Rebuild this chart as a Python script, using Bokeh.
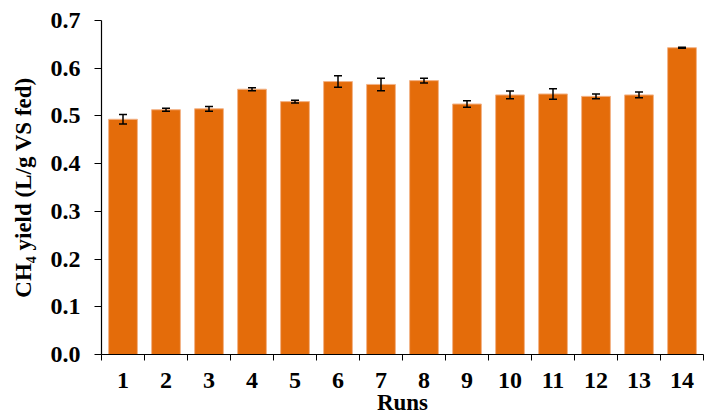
from bokeh.plotting import figure
from bokeh.models import ColumnDataSource, Whisker, TeeHead, FixedTicker, Range1d
from bokeh.embed import file_html
from bokeh.resources import INLINE

runs = list(range(1, 15))
yield_vals = [0.493, 0.513, 0.515, 0.556, 0.530, 0.572, 0.566, 0.574, 0.525, 0.544, 0.546, 0.541, 0.544, 0.643]
err_vals = [0.010, 0.003, 0.005, 0.003, 0.003, 0.012, 0.013, 0.005, 0.007, 0.008, 0.011, 0.005, 0.006, 0.001]
y_ticks = [0.0, 0.1, 0.2, 0.3, 0.4, 0.5, 0.6, 0.7]

src = ColumnDataSource(dict(
    x=runs, y=yield_vals,
    upper=[v + e for v, e in zip(yield_vals, err_vals)],
    lower=[v - e for v, e in zip(yield_vals, err_vals)],
))

FONT = "Liberation Serif"

p = figure(width=704, height=418, output_backend="svg", toolbar_location=None,
           x_range=Range1d(0.5, 14.5), y_range=Range1d(0, 0.7),
           min_border_left=101, min_border_right=1, min_border_top=20, min_border_bottom=64)
p.outline_line_color = None
p.xgrid.grid_line_color = None
p.ygrid.grid_line_color = None
p.background_fill_color = "white"
p.border_fill_color = "white"

p.vbar(x="x", top="y", width=0.67, source=src, fill_color="#E46C0A",
       line_color="#F3B387", line_width=1)

w = Whisker(source=src, base="x", upper="upper", lower="lower",
            line_color="black", line_width=1.5, level="overlay",
            upper_head=TeeHead(size=8, line_color="black", line_width=1.5),
            lower_head=TeeHead(size=8, line_color="black", line_width=1.5))
p.add_layout(w)

# x axis
xa = p.xaxis[0]
xa.ticker = FixedTicker(ticks=runs, minor_ticks=[r - 0.5 for r in runs] + [14.5])
xa.major_tick_line_color = None
xa.minor_tick_out = 6
xa.minor_tick_in = 0
xa.minor_tick_line_color = "black"
xa.axis_line_color = "black"
xa.axis_line_width = 1.2
xa.major_label_text_font = FONT
xa.major_label_text_font_style = "bold"
xa.major_label_text_font_size = "24px"
xa.major_label_text_color = "black"
xa.major_label_standoff = 12
xa.axis_label = "Runs"
xa.axis_label_text_font = FONT
xa.axis_label_text_font_style = "bold"
xa.axis_label_text_font_size = "23px"
xa.axis_label_text_color = "black"
xa.axis_label_standoff = -1

# y axis
ya = p.yaxis[0]
ya.ticker = FixedTicker(ticks=y_ticks)
ya.major_label_overrides = {t: f"{t:.1f}" for t in y_ticks}
ya.major_tick_out = 7
ya.major_tick_in = 0
ya.minor_tick_line_color = None
ya.major_tick_line_color = "black"
ya.axis_line_color = "black"
ya.axis_line_width = 1.2
ya.major_label_text_font = FONT
ya.major_label_text_font_style = "bold"
ya.major_label_text_font_size = "24px"
ya.major_label_text_color = "black"
ya.major_label_standoff = 14
ya.axis_label = "CH\u2084 yield (L/g VS fed)"
ya.axis_label_text_font = FONT
ya.axis_label_text_font_style = "bold"
ya.axis_label_text_font_size = "23px"
ya.axis_label_text_color = "black"
ya.axis_label_standoff = 12

open("out.html", "w").write(file_html(p, INLINE))
